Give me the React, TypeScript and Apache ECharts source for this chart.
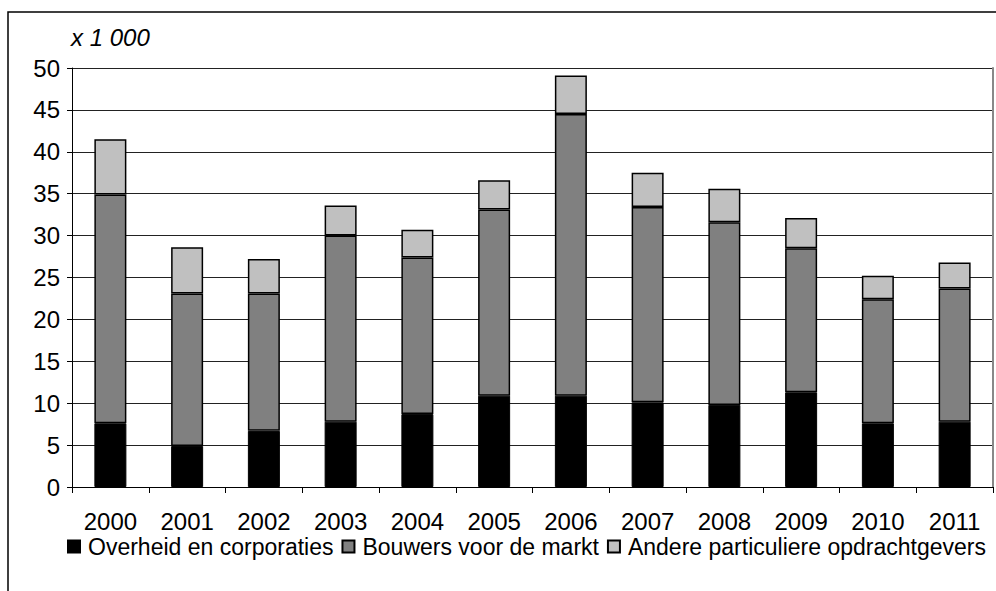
import React, { useEffect, useRef } from "react";
import * as echarts from "echarts";

const years = ["2000", "2001", "2002", "2003", "2004", "2005", "2006", "2007", "2008", "2009", "2010", "2011"];
const overheid = [7.6, 4.9, 6.7, 7.8, 8.7, 10.9, 10.9, 10.1, 9.8, 11.3, 7.6, 7.8];
const bouwers = [27.3, 18.2, 16.4, 22.2, 18.7, 22.2, 33.6, 23.3, 21.8, 17.2, 14.8, 15.9];
const andere = [6.6, 5.5, 4.1, 3.6, 3.3, 3.5, 4.6, 4.1, 4.0, 3.6, 2.8, 3.1];
const seriesNames = ["Overheid en corporaties", "Bouwers voor de markt", "Andere particuliere opdrachtgevers"];
const unitLabel = "x 1 000";

const FONT = "Liberation Sans, Arial, sans-serif";

export default function App() {
  const ref = useRef<HTMLDivElement>(null);
  useEffect(() => {
    if (!ref.current) return;
    const chart = echarts.init(ref.current, null, { renderer: "svg" });
    const barBase = { type: "bar", stack: "total", barWidth: 32 };
    chart.setOption({
      animation: false,
      backgroundColor: "#fff",
      textStyle: { fontFamily: FONT },
      grid: { left: 72, right: 3, top: 68, bottom: 104, containLabel: false },
      legend: {
        left: 62,
        top: 530,
        width: 1600,
        itemWidth: 12,
        itemHeight: 12,
        itemGap: 8,
        icon: "rect",
        textStyle: { fontSize: 23, color: "#000", fontFamily: FONT, padding: [0, 0, 0, 3] },
        data: seriesNames,
      },
      xAxis: {
        type: "category",
        data: years,
        axisLine: { lineStyle: { color: "#000", width: 1 } },
        axisTick: { show: true, length: 6, alignWithLabel: false, lineStyle: { color: "#000" } },
        axisLabel: { fontSize: 24, color: "#000", margin: 22, fontFamily: FONT },
      },
      yAxis: [
        {
          type: "value",
          min: 0,
          max: 50,
          interval: 5,
          axisLine: { show: true, lineStyle: { color: "#000", width: 1 } },
          axisTick: { show: true, length: 5, lineStyle: { color: "#000" } },
          axisLabel: { fontSize: 24, color: "#000", margin: 12, fontFamily: FONT },
          splitLine: { show: true, lineStyle: { color: "#222", width: 1 } },
        },
        {
          type: "value",
          min: 0,
          max: 50,
          interval: 5,
          position: "right",
          axisLine: { show: true, lineStyle: { color: "#888", width: 2 } },
          axisTick: { show: false },
          axisLabel: { show: false },
          splitLine: { show: false },
        },
      ],
      series: [
        { ...barBase, name: seriesNames[0], data: overheid, itemStyle: { color: "#000", borderColor: "#000", borderWidth: 1 } },
        { ...barBase, name: seriesNames[1], data: bouwers, itemStyle: { color: "#808080", borderColor: "#000", borderWidth: 1.5 } },
        { ...barBase, name: seriesNames[2], data: andere, itemStyle: { color: "#c0c0c0", borderColor: "#000", borderWidth: 1.5 } },
      ],
      graphic: [
        {
          type: "rect",
          shape: { x: 8, y: 12, width: 1100, height: 700 },
          style: { fill: "none", stroke: "#000", lineWidth: 1.5 },
          silent: true,
        },
        {
          type: "text",
          left: 71,
          top: 25,
          style: { text: unitLabel, fontSize: 24, fontStyle: "italic", fill: "#000", fontFamily: FONT },
        },
      ],
    });
    return () => chart.dispose();
  }, []);
  return <div ref={ref} style={{ position: "fixed", left: 0, top: 0, width: 996, height: 591 }} />;
}
